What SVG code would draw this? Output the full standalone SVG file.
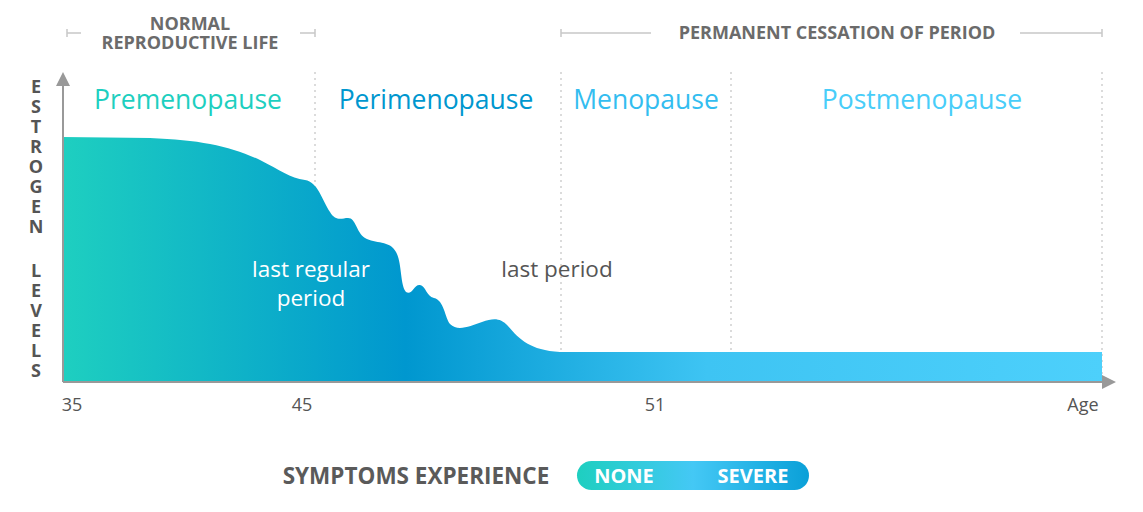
<svg xmlns="http://www.w3.org/2000/svg" width="1143" height="512" viewBox="0 0 1143 512">
<style>
text{font-family:"Open Sans","Liberation Sans",sans-serif}
.hd{font-size:18px;font-weight:700;fill:#6b6b6b}
.ph{font-size:26.5px}
.ax{font-size:18px;fill:#555}
.yl{font-size:18px;font-weight:700;fill:#555}
.br{stroke:#c8c8c8;stroke-width:1.5;fill:none}
.dv{stroke:#cfcfcf;stroke-width:1.5;stroke-dasharray:2 4}
</style>
<defs>
<linearGradient id="g" gradientUnits="userSpaceOnUse" x1="63" y1="0" x2="1102" y2="0">
<stop offset="0" stop-color="#1ecfc0"/>
<stop offset="0.33" stop-color="#0097cf"/>
<stop offset="0.62" stop-color="#3ec4f3"/>
<stop offset="1" stop-color="#4dd0fb"/>
</linearGradient>
<linearGradient id="p" x1="0" y1="0" x2="1" y2="0">
<stop offset="0" stop-color="#1ecfc0"/>
<stop offset="0.5" stop-color="#44c8f5"/>
<stop offset="1" stop-color="#0aa0d8"/>
</linearGradient>
</defs>
<g id="brackets">
<path class="br" d="M67,29v8M67,33h14M300,33h15M315,29v8M561,29v8M561,33h90M1020,33h82M1102,29v8"/>
<text class="hd" x="190" y="30" text-anchor="middle">NORMAL</text>
<text class="hd" x="190" y="49" text-anchor="middle">REPRODUCTIVE LIFE</text>
<text class="hd" x="837" y="39" text-anchor="middle">PERMANENT CESSATION OF PERIOD</text>
</g>
<g id="dividers">
<line class="dv" x1="315" y1="72" x2="315" y2="380"/>
<line class="dv" x1="561" y1="72" x2="561" y2="380"/>
<line class="dv" x1="731" y1="72" x2="731" y2="380"/>
<line class="dv" x1="1102" y1="72" x2="1102" y2="380"/>
</g>
<g id="curve">
<path fill="url(#g)" d="M63,137 L150,138 C200,140 230,146 260,160 C280,170 290,178 305,180 C318,182 322,200 330,212 C336,222 342,218 348,218 C356,218 356,232 365,238 C375,244 390,240 396,252 C402,262 400,285 406,292 C412,296 414,284 420,285 C426,286 426,296 434,298 C444,300 445,318 450,324 C458,332 470,326 482,322 C494,318 500,318 508,326 C520,340 530,350 560,352 L1102,352 L1102,382 L63,382 Z"/>
</g>
<g id="axes" stroke="#999" stroke-width="2" fill="#999">
<line x1="63" y1="382" x2="63" y2="84"/>
<line x1="63" y1="382" x2="1104" y2="382"/>
<path stroke="none" d="M56,86 L63,72 L70,86Z M1102,375 L1116,382 L1102,389Z"/>
</g>
<g id="ylabel" class="yl" text-anchor="middle">
<text x="36" y="93">E</text><text x="36" y="113">S</text><text x="36" y="133">T</text><text x="36" y="153">R</text><text x="36" y="173">O</text><text x="36" y="193">G</text><text x="36" y="213">E</text><text x="36" y="233">N</text>
<text x="36" y="277">L</text><text x="36" y="297">E</text><text x="36" y="317">V</text><text x="36" y="337">E</text><text x="36" y="357">L</text><text x="36" y="377">S</text>
</g>
<g id="phases" class="ph" text-anchor="middle">
<text x="188" y="109" fill="#1ecfc0">Premenopause</text>
<text x="436" y="109" fill="#0097cf">Perimenopause</text>
<text x="646" y="109" fill="#33bdf0">Menopause</text>
<text x="922" y="109" fill="#48cdf9">Postmenopause</text>
</g>
<g id="labels" text-anchor="middle" font-size="22.5">
<text x="311" y="277" fill="#fff">last regular</text>
<text x="311" y="306" fill="#fff">period</text>
<text x="557" y="277" fill="#555">last period</text>
</g>
<g id="ticks" class="ax" text-anchor="middle">
<text x="72" y="411">35</text><text x="302" y="411">45</text><text x="655" y="411">51</text><text x="1083" y="411">Age</text>
</g>
<g id="legend">
<text x="416" y="484" text-anchor="middle" font-size="22.5" font-weight="700" fill="#5a5a5a">SYMPTOMS EXPERIENCE</text>
<rect x="577" y="461" width="232" height="29" rx="14.5" fill="url(#p)"/>
<text x="624" y="483" text-anchor="middle" font-size="20" font-weight="700" fill="#fff">NONE</text>
<text x="753" y="483" text-anchor="middle" font-size="20" font-weight="700" fill="#fff">SEVERE</text>
</g>
</svg>
